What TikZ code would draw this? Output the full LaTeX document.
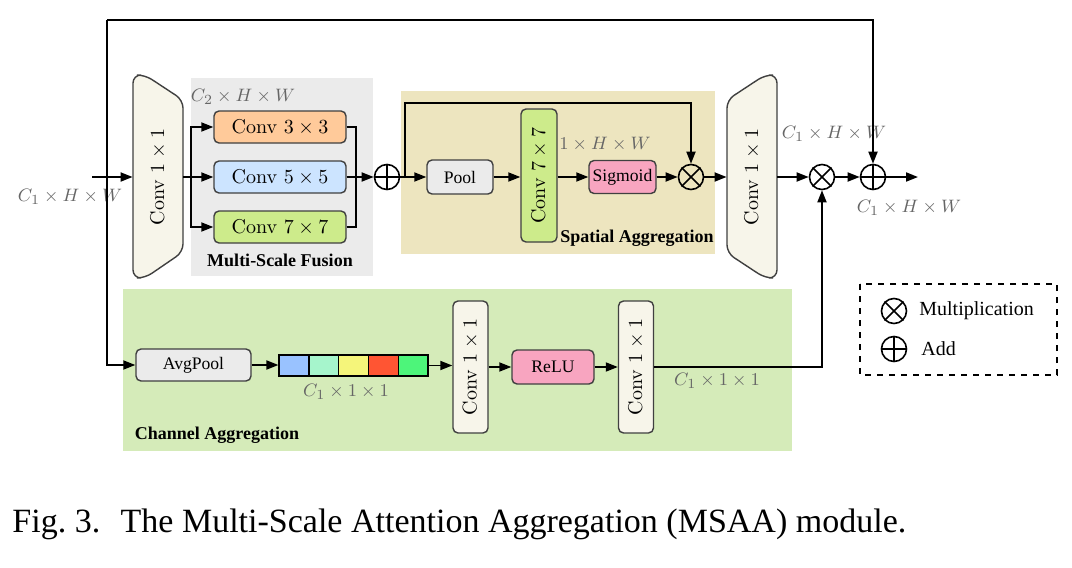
\documentclass[tikz,border=0pt]{standalone}
\usepackage{fontspec}
\newfontfamily\tms{Liberation Serif}
\usetikzlibrary{arrows.meta}
\definecolor{cream}{HTML}{F7F5EA}
\definecolor{corange}{HTML}{FFCA9A}
\definecolor{cblue}{HTML}{CCE4FF}
\definecolor{cgreen}{HTML}{CDEB8B}
\definecolor{cgray}{HTML}{EBEBEB}
\definecolor{cpink}{HTML}{F8A5C0}
\definecolor{fusbg}{HTML}{EBEBEB}
\definecolor{spabg}{HTML}{EDE5BF}
\definecolor{chbg}{HTML}{D5EBB9}
\definecolor{s1c}{HTML}{99C2FF}
\definecolor{s2c}{HTML}{A6F5CC}
\definecolor{s3c}{HTML}{F5F57A}
\definecolor{s4c}{HTML}{FF5533}
\definecolor{s5c}{HTML}{4DF57A}
\begin{document}
\begin{tikzpicture}[x=0.5pt,y=-0.5pt,
  blk/.style={draw=black!75, line width=0.7pt, rounded corners=2.5pt, inner sep=0pt, font=\fontsize{10}{12}\selectfont},
  tblk/.style={blk, font=\fontsize{8.8}{10}\selectfont\tms},
  trap/.style={draw=black!75, line width=0.7pt, fill=cream, rounded corners=4pt},
  ln/.style={line width=0.9pt},
  arr/.style={ln, -{Triangle[length=6pt,width=4.5pt]}},
  dim/.style={text=black!60, font=\fontsize{9.5}{11}\selectfont, inner sep=0pt},
  lbl/.style={font=\fontsize{9}{11}\selectfont\tms\bfseries, inner sep=0pt},
  op/.style={circle, draw, line width=0.8pt, minimum size=12.5pt, inner sep=0pt},
  cell/.style={draw=black, line width=0.7pt, minimum width=14.9pt, minimum height=10.5pt, inner sep=0pt}
]
\useasboundingbox (0,0) rectangle (1072,568);
% backgrounds
\fill[fusbg] (191,78) rectangle (373,276);
\fill[spabg] (401,91) rectangle (715,254);
\fill[chbg] (123,289) rectangle (792,451);
% trapezoids
\draw[trap] (133,278) -- (133,75) -- (145,75) -- (183,100) -- (183,252) -- (145,278) -- cycle;
\draw[trap] (777,75) -- (777,278) -- (765,278) -- (727,253) -- (727,100) -- (765,75) -- cycle;
\node[minimum width=25pt, minimum height=100pt, inner sep=0pt, font=\fontsize{10}{12}\selectfont] (cin) at (158,177) {\rotatebox{90}{Conv $1\times1$}};
\node[minimum width=25pt, minimum height=100pt, inner sep=0pt, font=\fontsize{10}{12}\selectfont] (cout) at (752,177) {\rotatebox{90}{Conv $1\times1$}};
% multi-scale fusion
\node[blk, fill=corange, minimum width=66pt, minimum height=16pt] (k3) at (280,127) {Conv $3\times3$};
\node[blk, fill=cblue, minimum width=66pt, minimum height=16pt] (k5) at (280,177) {Conv $5\times5$};
\node[blk, fill=cgreen, minimum width=66pt, minimum height=16pt] (k7) at (280,227) {Conv $7\times7$};
\node[dim] (d1) at (243,97) {$C_2\times H\times W$};
\node[lbl] (lf) at (280,260) {Multi-Scale Fusion};
\node[op] (a1) at (387,177) {};
\draw[line width=0.8pt] (a1.north) -- (a1.south) (a1.west) -- (a1.east);
\coordinate (bl) at (191,177);
\coordinate (br) at (356,177);
\coordinate (in) at (92,177);
\draw[arr] (in) -- (cin.west);
\draw[ln] (cin.east) -- (bl);
\draw[arr] (bl) |- (k3.west);
\draw[arr] (bl) -- (k5.west);
\draw[arr] (bl) |- (k7.west);
\draw[ln] (k3.east) -| (br);
\draw[ln] (k7.east) -| (br);
\draw[arr] (k5.east) -- (a1.west);
% spatial aggregation
\node[tblk, fill=cgray, minimum width=33pt, minimum height=17pt] (pool) at (460,177) {Pool};
\node[blk, fill=cgreen, minimum width=18pt, minimum height=66.5pt] (c7) at (539,175.5) {\rotatebox{90}{Conv $7\times7$}};
\node[tblk, fill=cpink, minimum width=33.5pt, minimum height=16.5pt] (sig) at (622.5,177) {Sigmoid};
\node[op] (m1) at (691,177) {};
\draw[line width=0.8pt] (m1.north west) -- (m1.south east) (m1.north east) -- (m1.south west);
\node[dim] (d2) at (605,144) {$1\times H\times W$};
\node[lbl] (ls) at (637,238) {Spatial Aggregation};
\coordinate (sp) at (405,177);
\coordinate (sptop) at (691,103);
\draw[arr] (a1.east) -- (pool.west);
\draw[arr] (sp) |- (sptop) -- (m1.north);
\draw[arr] (pool.east) -- (pool.east -| c7.west);
\draw[arr] (c7.east |- sig.west) -- (sig.west);
\draw[arr] (sig.east) -- (m1.west);
\draw[arr] (m1.east) -- (cout.west);
% output
\node[op] (m2) at (822,177) {};
\draw[line width=0.8pt] (m2.north west) -- (m2.south east) (m2.north east) -- (m2.south west);
\node[op] (a2) at (873,177) {};
\draw[line width=0.8pt] (a2.north) -- (a2.south) (a2.west) -- (a2.east);
\coordinate (out) at (918,177);
\draw[arr] (cout.east) -- (m2.west);
\draw[arr] (m2.east) -- (a2.west);
\draw[arr] (a2.east) -- (out);
\node[dim] (d0) at (70,197) {$C_1\times H\times W$};
\node[dim] (d3) at (834,134) {$C_1\times H\times W$};
\node[dim] (d4) at (909,208) {$C_1\times H\times W$};
% skip
\coordinate (top) at (107,20);
\coordinate (topr) at (873,20);
\draw[arr] (top) -- (topr) -- (a2.north);
% channel aggregation
\node[tblk, fill=cgray, minimum width=57.5pt, minimum height=16pt] (avg) at (193.5,365) {AvgPool};
\draw[arr] (top) |- (avg.west);
\node[cell, fill=s1c] (s1) at (294,365.5) {};
\node[cell, fill=s2c] (s2) at (323.8,365.5) {};
\node[cell, fill=s3c] (s3) at (353.6,365.5) {};
\node[cell, fill=s4c] (s4) at (383.4,365.5) {};
\node[cell, fill=s5c] (s5) at (413.2,365.5) {};
\node[dim] (d5) at (346,392) {$C_1\times 1\times 1$};
\node[blk, fill=cream, minimum width=17.5pt, minimum height=66pt] (ch1) at (470.5,367) {\rotatebox{90}{Conv $1\times1$}};
\node[tblk, fill=cpink, minimum width=41pt, minimum height=17pt] (relu) at (553,367) {ReLU};
\node[blk, fill=cream, minimum width=17.5pt, minimum height=66pt] (ch2) at (636,367) {\rotatebox{90}{Conv $1\times1$}};
\node[dim] (d6) at (717,381) {$C_1\times 1\times 1$};
\node[lbl] (lc) at (217,435) {Channel Aggregation};
\draw[arr] (avg.east) -- (avg.east -| s1.west);
\draw[arr] (s5.east) -- (s5.east -| ch1.west);
\draw[arr] (ch1.east) -- (relu.west);
\draw[arr] (relu.east) -- (ch2.west);
\draw[arr] (ch2.east) -| (m2.south);
% legend
\draw[dashed, line width=0.8pt] (860,284) rectangle (1057,375);
\node[op] (lm) at (894,311) {};
\draw[line width=0.8pt] (lm.north west) -- (lm.south east) (lm.north east) -- (lm.south west);
\node[op] (la) at (894,349) {};
\draw[line width=0.8pt] (la.north) -- (la.south) (la.west) -- (la.east);
\node[anchor=west, inner sep=0pt, font=\fontsize{10}{12}\selectfont\tms] (tm) at (919,311) {Multiplication};
\node[anchor=west, inner sep=0pt, font=\fontsize{10}{12}\selectfont\tms] (ta) at (921,349) {Add};
% caption
\node[anchor=base west, inner sep=0pt, font=\fontsize{17}{20}\selectfont\tms] (cap) at (12,532) {Fig.~3.\hspace{0.6em}The Multi-Scale Attention Aggregation (MSAA) module.};
\end{tikzpicture}
\end{document}
